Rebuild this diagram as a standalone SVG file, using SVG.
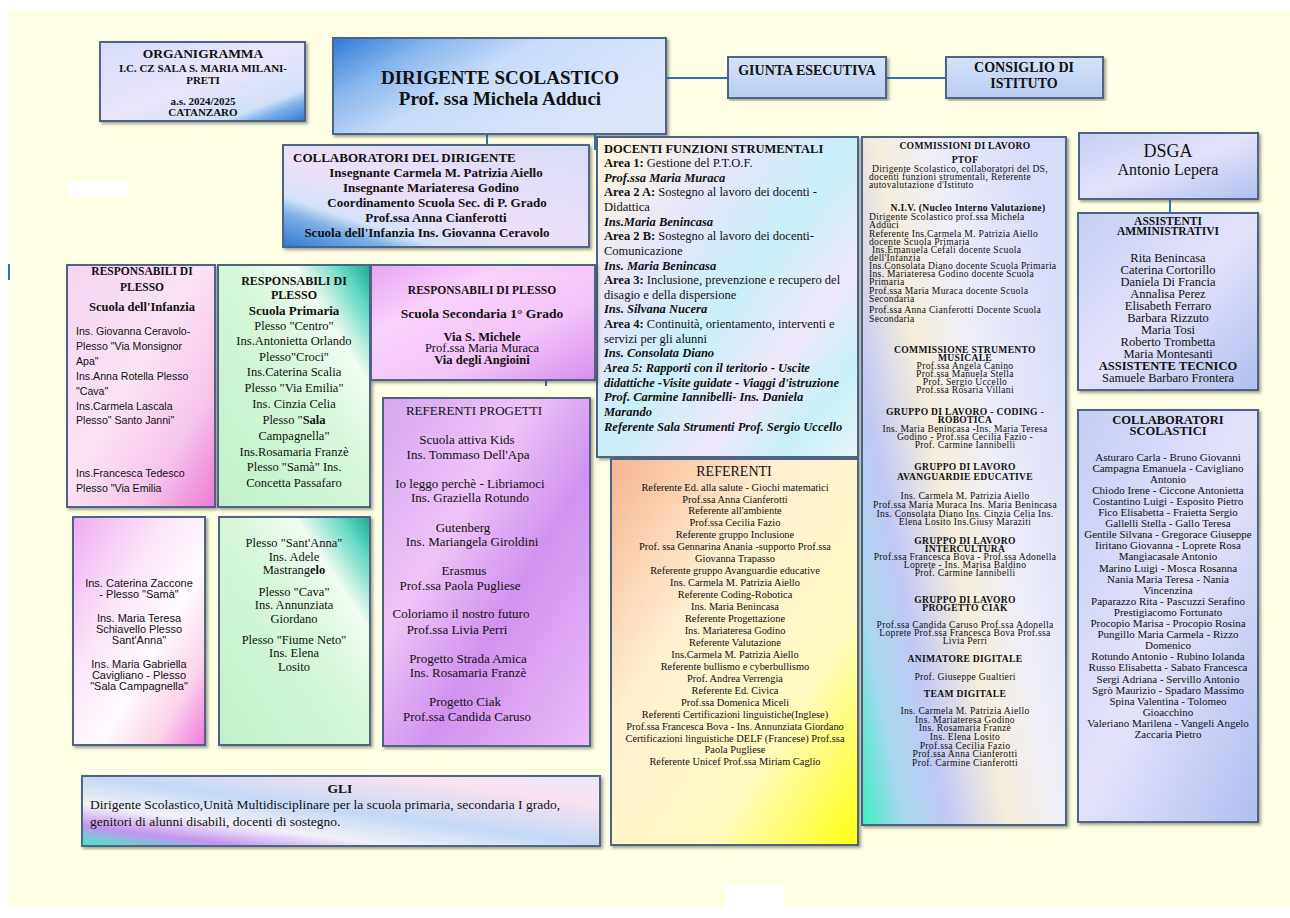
<svg xmlns="http://www.w3.org/2000/svg" width="1290" height="918" viewBox="0 0 1290 918">
<defs>
<style>
.t{font-family:"Liberation Serif","Times New Roman",serif;fill:#111}
.s{font-family:"Liberation Sans",Arial,sans-serif;fill:#111}
.b{font-weight:bold}
.i{font-style:italic}
.c{text-anchor:middle}
.box{stroke:#4f6482;stroke-width:2;filter:url(#sh)}
.con{stroke:#2e74b5;stroke-width:2;fill:none}
</style>
<filter id="sh" x="-5%" y="-5%" width="112%" height="112%">
<feDropShadow dx="2" dy="2" stdDeviation="1.5" flood-color="#444" flood-opacity="0.5"/>
</filter>
<linearGradient id="gOrg" x1="0" y1="0" x2="1" y2="1">
<stop offset="0" stop-color="#d4dcfa"/><stop offset="0.5" stop-color="#ebe6fb"/><stop offset="0.8" stop-color="#cfdff8"/><stop offset="0.87" stop-color="#80b2ea"/><stop offset="1" stop-color="#2f78d0"/>
</linearGradient>
<linearGradient id="gDir" x1="0" y1="0" x2="1" y2="0.5">
<stop offset="0" stop-color="#2e7ad4"/><stop offset="0.25" stop-color="#86b6ee"/><stop offset="0.5" stop-color="#c8dbf8"/><stop offset="1" stop-color="#dde6fb"/>
</linearGradient>
<linearGradient id="gGiu" x1="0" y1="0" x2="0" y2="1">
<stop offset="0" stop-color="#d6e2f8"/><stop offset="1" stop-color="#b9cdf2"/>
</linearGradient>
<linearGradient id="gCol" x1="1" y1="0" x2="0" y2="1">
<stop offset="0" stop-color="#d8dcf8"/><stop offset="0.55" stop-color="#eedff8"/><stop offset="0.75" stop-color="#d4e2f8"/><stop offset="0.83" stop-color="#7cb0e8"/><stop offset="1" stop-color="#2f78d0"/>
</linearGradient>
<linearGradient id="gRain" x1="0" y1="0" x2="1" y2="1">
<stop offset="0" stop-color="#fff8dc"/><stop offset="0.3" stop-color="#e6e6fb"/><stop offset="0.5" stop-color="#c8f0f8"/><stop offset="0.7" stop-color="#f0e8fa"/><stop offset="0.85" stop-color="#c8f2f8"/><stop offset="1" stop-color="#e8f4fb"/>
</linearGradient>
<linearGradient id="gCom" x1="0" y1="1" x2="1" y2="0.35">
<stop offset="0" stop-color="#3cf0c0"/><stop offset="0.15" stop-color="#a8d8f0"/><stop offset="0.3" stop-color="#c2c8f4"/><stop offset="0.5" stop-color="#f6eedc"/><stop offset="0.7" stop-color="#efeffa"/><stop offset="1" stop-color="#d8dcf8"/>
</linearGradient>
<linearGradient id="gAdm" x1="0" y1="0" x2="1" y2="1">
<stop offset="0" stop-color="#c4cef4"/><stop offset="0.5" stop-color="#e4e2fa"/><stop offset="1" stop-color="#b0bff0"/>
</linearGradient>
<linearGradient id="gPink" x1="0" y1="0" x2="1" y2="1">
<stop offset="0" stop-color="#f4d4f2"/><stop offset="0.45" stop-color="#fbe4f5"/><stop offset="0.75" stop-color="#f6c4ea"/><stop offset="1" stop-color="#ee78d6"/>
</linearGradient>
<linearGradient id="gPink2" x1="0" y1="0" x2="1" y2="1">
<stop offset="0" stop-color="#eeaaf2"/><stop offset="0.35" stop-color="#fbe6f8"/><stop offset="0.6" stop-color="#fffaff"/><stop offset="0.8" stop-color="#fbd6ea"/><stop offset="1" stop-color="#f07ae0"/>
</linearGradient>
<linearGradient id="gGreen" x1="0" y1="1" x2="1" y2="0">
<stop offset="0" stop-color="#bff0c8"/><stop offset="0.55" stop-color="#d8f8dc"/><stop offset="0.75" stop-color="#f2fcf2"/><stop offset="0.9" stop-color="#62d8c2"/><stop offset="1" stop-color="#1ea898"/>
</linearGradient>
<linearGradient id="gPur" x1="0" y1="0" x2="1" y2="1">
<stop offset="0" stop-color="#e6a4f4"/><stop offset="0.3" stop-color="#f8d2fa"/><stop offset="0.65" stop-color="#f2c4f8"/><stop offset="1" stop-color="#d88ef0"/>
</linearGradient>
<linearGradient id="gPur2" x1="0" y1="0" x2="1" y2="1">
<stop offset="0" stop-color="#d6a6f0"/><stop offset="0.35" stop-color="#eec4f8"/><stop offset="0.6" stop-color="#d092f0"/><stop offset="1" stop-color="#ecbcf8"/>
</linearGradient>
<linearGradient id="gOra" x1="0" y1="0" x2="1" y2="1">
<stop offset="0" stop-color="#f6b48e"/><stop offset="0.35" stop-color="#fff0d2"/><stop offset="0.7" stop-color="#fffbc0"/><stop offset="1" stop-color="#ffff10"/>
</linearGradient>
<linearGradient id="gGli" x1="0" y1="1" x2="1" y2="0">
<stop offset="0" stop-color="#40f0c0"/><stop offset="0.15" stop-color="#c494f0"/><stop offset="0.3" stop-color="#f2f2f8"/><stop offset="0.5" stop-color="#c4d8f4"/><stop offset="0.8" stop-color="#fae2f0"/><stop offset="1" stop-color="#e6e8fa"/>
</linearGradient>
</defs>

<rect x="0" y="0" width="1290" height="918" fill="#ffffff"/>
<rect x="8" y="10" width="1282" height="898" fill="#fefee4"/>
<rect x="68" y="182" width="60" height="16" fill="#ffffff"/>
<rect x="725" y="885" width="60" height="23" fill="#ffffff"/>

<g id="connectors">
<line class="con" x1="666" y1="78" x2="728" y2="78"/>
<line class="con" x1="886" y1="78" x2="946" y2="78"/>
<line class="con" x1="487" y1="134" x2="487" y2="145"/>
<line class="con" x1="595" y1="134" x2="595" y2="150"/>
<line class="con" x1="1170" y1="199" x2="1170" y2="213"/>
<line class="con" x1="546" y1="380" x2="546" y2="386"/>
<line class="con" x1="508" y1="397" x2="508" y2="405"/>
<line class="con" x1="9" y1="264" x2="9" y2="280"/>
</g>

<g id="organigramma">
<rect class="box" x="100" y="42" width="205" height="79" fill="url(#gOrg)"/>
<text class="t b c" x="203" y="58" font-size="13.5">ORGANIGRAMMA</text>
<text class="t b c" x="203" y="72" font-size="11">I.C. CZ SALA S. MARIA MILANI-</text>
<text class="t b c" x="203" y="84" font-size="11">PRETI</text>
<text class="t b c" x="203" y="105" font-size="11">a.s. 2024/2025</text>
<text class="t b c" x="203" y="116" font-size="11">CATANZARO</text>
</g>

<g id="dirigente">
<rect class="box" x="333" y="38" width="333" height="96" fill="url(#gDir)"/>
<text class="t b c" x="500" y="84" font-size="19">DIRIGENTE SCOLASTICO</text>
<text class="t b c" x="500" y="105" font-size="19">Prof. ssa Michela Adduci</text>
</g>

<g id="giunta">
<rect class="box" x="728" y="57" width="158" height="41" fill="url(#gGiu)"/>
<text class="t b c" x="807" y="75" font-size="14">GIUNTA ESECUTIVA</text>
</g>

<g id="consiglio">
<rect class="box" x="946" y="57" width="157" height="41" fill="url(#gGiu)"/>
<text class="t b c" x="1024" y="72" font-size="14">CONSIGLIO DI</text>
<text class="t b c" x="1024" y="88" font-size="14">ISTITUTO</text>
</g>

<g id="collaboratori-dirigente">
<rect class="box" x="283" y="145" width="306" height="102" fill="url(#gCol)"/>
<text class="t b" x="293" y="162" font-size="13">COLLABORATORI DEL DIRIGENTE</text>
<text class="t b c" x="436" y="177" font-size="13">Insegnante Carmela M. Patrizia Aiello</text>
<text class="t b c" x="431" y="192" font-size="13">Insegnante Mariateresa Godino</text>
<text class="t b c" x="437" y="207" font-size="13">Coordinamento Scuola Sec. di P. Grado</text>
<text class="t b c" x="436" y="222" font-size="13">Prof.ssa Anna Cianferotti</text>
<text class="t b c" x="427" y="237" font-size="13">Scuola dell'Infanzia Ins. Giovanna Ceravolo</text>
</g>

<g id="funzioni-strumentali">
<rect class="box" x="597" y="137" width="261" height="320" fill="url(#gRain)"/>
<g class="t" font-size="12.5">
<text class="b" x="604" y="152.5">DOCENTI FUNZIONI STRUMENTALI</text>
<text x="604" y="167.1"><tspan class="b">Area 1:</tspan> Gestione del P.T.O.F.</text>
<text class="b i" x="604" y="181.8">Prof.ssa Maria Muraca</text>
<text x="604" y="196.4"><tspan class="b">Area 2 A:</tspan> Sostegno al lavoro dei docenti -</text>
<text x="604" y="211">Didattica</text>
<text class="b i" x="604" y="225.7">Ins.Maria Benincasa</text>
<text x="604" y="240.3"><tspan class="b">Area 2 B:</tspan> Sostegno al lavoro dei docenti-</text>
<text x="604" y="254.9">Comunicazione</text>
<text class="b i" x="604" y="269.5">Ins. Maria Benincasa</text>
<text x="604" y="284.2"><tspan class="b">Area 3:</tspan> Inclusione, prevenzione e recupero del</text>
<text x="604" y="298.8">disagio e della dispersione</text>
<text class="b i" x="604" y="313.4">Ins. Silvana Nucera</text>
<text x="604" y="328"><tspan class="b">Area 4:</tspan> Continuità, orientamento, interventi e</text>
<text x="604" y="342.7">servizi per gli alunni</text>
<text class="b i" x="604" y="357.3">Ins. Consolata Diano</text>
<text class="b i" x="604" y="371.9">Area 5: Rapporti con il teritorio - Uscite</text>
<text class="b i" x="604" y="386.6">didattiche -Visite guidate -  Viaggi d'istruzione</text>
<text class="b i" x="604" y="401.2">Prof. Carmine Iannibelli- Ins. Daniela</text>
<text class="b i" x="604" y="415.8">Marando</text>
<text class="b i" x="604" y="430.5">Referente Sala Strumenti Prof. Sergio Uccello</text>
</g>
</g>

<g id="commissioni">
<rect class="box" x="862" y="137" width="204" height="688" fill="url(#gCom)"/>
<g class="t" font-size="9.6" letter-spacing="0.3">
<text class="b c" x="965" y="149">COMMISSIONI DI LAVORO</text>
<text class="b c" x="965" y="163">PTOF</text>
<text x="872" y="171.5">Dirigente Scolastico, collaboratori del DS,</text>
<text x="869" y="179.5">docenti funzioni strumentali, Referente</text>
<text x="869" y="187.5">autovalutazione d'Istituto</text>
<text class="b c" x="968" y="211">N.I.V. (Nucleo Interno Valutazione)</text>
<text x="869" y="219.5">Dirigente Scolastico prof.ssa Michela</text>
<text x="869" y="227.5">Adduci</text>
<text x="869" y="236.5">Referente Ins.Carmela M. Patrizia Aiello</text>
<text x="869" y="244.5">docente Scuola Primaria</text>
<text x="872" y="252.5">Ins.Emanuela Cefali docente Scuola</text>
<text x="869" y="260.5">dell'Infanzia</text>
<text x="869" y="268.5">Ins.Consolata Diano docente Scuola Primaria</text>
<text x="869" y="276.5">Ins. Mariateresa Godino docente Scuola</text>
<text x="869" y="284.5">Primaria</text>
<text x="869" y="293.5">Prof.ssa Maria Muraca docente Scuola</text>
<text x="869" y="301.5">Secondaria</text>
<text x="869" y="312.5">Prof.ssa Anna Cianferotti Docente Scuola</text>
<text x="869" y="321.5">Secondaria</text>
<text class="b c" x="965" y="352.5">COMMISSIONE STRUMENTO</text>
<text class="b c" x="965" y="360.5">MUSICALE</text>
<text class="c" x="965" y="368.5">Prof.ssa Angela Canino</text>
<text class="c" x="965" y="376.5">Prof.ssa Manuela Stella</text>
<text class="c" x="965" y="384.5">Prof. Sergio Uccello</text>
<text class="c" x="965" y="392.5">Prof.ssa Rosaria Villani</text>
<text class="b c" x="965" y="414.5">GRUPPO DI LAVORO - CODING -</text>
<text class="b c" x="965" y="422.5">ROBOTICA</text>
<text class="c" x="965" y="431.5">Ins. Maria Benincasa -Ins. Maria Teresa</text>
<text class="c" x="965" y="439.5">Godino - Prof.ssa Cecilia Fazio -</text>
<text class="c" x="965" y="447.5">Prof. Carmine Iannibelli</text>
<text class="b c" x="965" y="469.5">GRUPPO DI LAVORO</text>
<text class="b c" x="965" y="479.5">AVANGUARDIE EDUCATIVE</text>
<text class="c" x="965" y="498.5">Ins. Carmela M. Patrizia Aiello</text>
<text class="c" x="965" y="507.5">Prof.ssa Maria Muraca Ins. Maria Benincasa</text>
<text class="c" x="965" y="516.5">Ins. Consolata Diano Ins. Cinzia Celia Ins.</text>
<text class="c" x="965" y="524.5">Elena Losito Ins.Giusy Maraziti</text>
<text class="b c" x="965" y="543.5">GRUPPO DI LAVORO</text>
<text class="b c" x="965" y="551.5">INTERCULTURA</text>
<text class="c" x="965" y="559.5">Prof.ssa Francesca Bova - Prof.ssa Adonella</text>
<text class="c" x="965" y="567.5">Loprete - Ins. Marisa Baldino</text>
<text class="c" x="965" y="575.5">Prof. Carmine Iannibelli</text>
<text class="b c" x="965" y="602.5">GRUPPO DI LAVORO</text>
<text class="b c" x="965" y="610.5">PROGETTO CIAK</text>
<text class="c" x="965" y="627.5">Prof.ssa Candida Caruso Prof.ssa Adonella</text>
<text class="c" x="965" y="635.5">Loprete Prof.ssa Francesca Bova Prof.ssa</text>
<text class="c" x="965" y="643.5">Livia Perri</text>
<text class="b c" x="965" y="661.5">ANIMATORE DIGITALE</text>
<text class="c" x="965" y="679.5">Prof. Giuseppe Gualtieri</text>
<text class="b c" x="965" y="696.5">TEAM DIGITALE</text>
<text class="c" x="965" y="713.5">Ins. Carmela M. Patrizia Aiello</text>
<text class="c" x="965" y="722.5">Ins. Mariateresa Godino</text>
<text class="c" x="965" y="730.5">Ins. Rosamaria Franzè</text>
<text class="c" x="965" y="739.5">Ins. Elena Losito</text>
<text class="c" x="965" y="748.5">Prof.ssa Cecilia Fazio</text>
<text class="c" x="965" y="756.5">Prof.ssa Anna Cianferotti</text>
<text class="c" x="965" y="765.5">Prof. Carmine Cianferotti</text>
</g>
</g>

<g id="dsga">
<rect class="box" x="1079" y="133" width="179" height="66" fill="url(#gAdm)"/>
<text class="t c" x="1168" y="157" font-size="18">DSGA</text>
<text class="t c" x="1168" y="175" font-size="16">Antonio Lepera</text>
</g>

<g id="assistenti">
<rect class="box" x="1078" y="213" width="180" height="177" fill="url(#gAdm)"/>
<g class="t c" font-size="12.5">
<text class="b" x="1168" y="225" font-size="11.5">ASSISTENTI</text>
<text class="b" x="1168" y="235" font-size="11.5">AMMINISTRATIVI</text>
<text x="1168" y="262">Rita Benincasa</text>
<text x="1168" y="274">Caterina Cortorillo</text>
<text x="1168" y="286">Daniela Di Francia</text>
<text x="1168" y="298">Annalisa Perez</text>
<text x="1168" y="310">Elisabeth Ferraro</text>
<text x="1168" y="322">Barbara Rizzuto</text>
<text x="1168" y="334">Maria Tosi</text>
<text x="1168" y="346">Roberto Trombetta</text>
<text x="1168" y="358">Maria Montesanti</text>
<text class="b" x="1168" y="370">ASSISTENTE TECNICO</text>
<text x="1168" y="382">Samuele Barbaro Frontera</text>
</g>
</g>

<g id="collaboratori-scolastici">
<rect class="box" x="1078" y="410" width="180" height="412" fill="url(#gAdm)"/>
<g class="t c" font-size="11">
<text class="b" x="1168" y="424" font-size="12.5">COLLABORATORI</text>
<text class="b" x="1168" y="435" font-size="12.5">SCOLASTICI</text>
<text x="1168" y="460.5">Asturaro Carla - Bruno Giovanni</text>
<text x="1168" y="471.6">Campagna Emanuela - Cavigliano</text>
<text x="1168" y="482.7">Antonio</text>
<text x="1168" y="493.8">Chiodo Irene - Ciccone Antonietta</text>
<text x="1168" y="504.9">Costantino Luigi - Esposito Pietro</text>
<text x="1168" y="516">Fico Elisabetta - Fraietta Sergio</text>
<text x="1168" y="527.1">Gallelli Stella - Gallo Teresa</text>
<text x="1168" y="538.2">Gentile Silvana - Gregorace Giuseppe</text>
<text x="1168" y="549.3">Iiritano Giovanna - Loprete Rosa</text>
<text x="1168" y="560.4">Mangiacasale Antonio</text>
<text x="1168" y="571.5">Marino Luigi - Mosca Rosanna</text>
<text x="1168" y="582.6">Nania Maria Teresa  - Nania</text>
<text x="1168" y="593.7">Vincenzina</text>
<text x="1168" y="604.8">Paparazzo Rita - Pascuzzi Serafino</text>
<text x="1168" y="615.9">Prestigiacomo Fortunato</text>
<text x="1168" y="627">Procopio Marisa - Procopio Rosina</text>
<text x="1168" y="638.1">Pungillo Maria Carmela - Rizzo</text>
<text x="1168" y="649.2">Domenico</text>
<text x="1168" y="660.3">Rotundo Antonio - Rubino Iolanda</text>
<text x="1168" y="671.4">Russo Elisabetta - Sabato Francesca</text>
<text x="1168" y="682.5">Sergi Adriana - Servillo Antonio</text>
<text x="1168" y="693.6">Sgrò Maurizio - Spadaro Massimo</text>
<text x="1168" y="704.7">Spina Valentina - Tolomeo</text>
<text x="1168" y="715.8">Gioacchino</text>
<text x="1168" y="726.9">Valeriano Marilena - Vangeli Angelo</text>
<text x="1168" y="738">Zaccaria Pietro</text>
</g>
</g>

<g id="plesso-infanzia">
<rect class="box" x="67" y="265" width="148" height="242" fill="url(#gPink)"/>
<text class="t b c" x="142" y="275" font-size="11.5">RESPONSABILI DI</text>
<text class="t b c" x="142" y="291" font-size="11.5">PLESSO</text>
<text class="t b c" x="142" y="311" font-size="12.5">Scuola dell'Infanzia</text>
<g class="s" font-size="10.6">
<text x="76" y="335">Ins. Giovanna Ceravolo-</text>
<text x="76" y="350">Plesso "Via Monsignor</text>
<text x="76" y="365">Apa"</text>
<text x="76" y="380">Ins.Anna Rotella Plesso</text>
<text x="76" y="395">"Cava"</text>
<text x="76" y="410">Ins.Carmela Lascala</text>
<text x="76" y="424"> Plesso" Santo Janni"</text>
<text x="76" y="477">Ins.Francesca Tedesco</text>
<text x="76" y="492">Plesso "Via Emilia</text>
</g>
</g>

<g id="plesso-primaria">
<rect class="box" x="218" y="265" width="152" height="242" fill="url(#gGreen)"/>
<g class="t c" font-size="12.5">
<text class="b" x="294" y="285" font-size="12">RESPONSABILI DI</text>
<text class="b" x="294" y="299" font-size="12">PLESSO</text>
<text class="b" x="294" y="315" font-size="13">Scuola Primaria</text>
<text x="294" y="330">Plesso "Centro"</text>
<text x="294" y="345">Ins.Antonietta Orlando</text>
<text x="294" y="361">Plesso"Croci"</text>
<text x="294" y="376">Ins.Caterina Scalia</text>
<text x="294" y="392">Plesso "Via Emilia"</text>
<text x="294" y="408">Ins. Cinzia Celia</text>
<text x="294" y="424">Plesso "<tspan class="b">Sala</tspan></text>
<text x="294" y="440">Campagnella"</text>
<text x="294" y="456">Ins.Rosamaria Franzè</text>
<text x="294" y="471">Plesso "Samà" Ins.</text>
<text x="294" y="487">Concetta Passafaro</text>
</g>
</g>

<g id="plesso-secondaria">
<rect class="box" x="371" y="265" width="224" height="115" fill="url(#gPur)"/>
<text class="t b c" x="482" y="294" font-size="11.5">RESPONSABILI DI PLESSO</text>
<text class="t b c" x="482" y="318" font-size="13.5">Scuola Secondaria 1° Grado</text>
<text class="t b c" x="482" y="341" font-size="12.5">Via S. Michele</text>
<text class="t c" x="482" y="352" font-size="12.5">Prof.ssa Maria Muraca</text>
<text class="t b c" x="482" y="364" font-size="12.5">Via degli Angioini</text>
</g>

<g id="referenti-progetti">
<rect class="box" x="383" y="398" width="207" height="348" fill="url(#gPur2)"/>
<g class="t c" font-size="13">
<text x="474" y="415">REFERENTI PROGETTI</text>
<text x="467" y="444">Scuola attiva Kids</text>
<text x="468" y="459">Ins. Tommaso Dell'Apa</text>
<text x="470" y="488">Io leggo perchè - Libriamoci</text>
<text x="470" y="502">Ins. Graziella Rotundo</text>
<text x="463" y="532">Gutenberg</text>
<text x="472" y="546">Ins. Mariangela Giroldini</text>
<text x="464" y="575">Erasmus</text>
<text x="460" y="590">Prof.ssa Paola Pugliese</text>
<text x="461" y="618">Coloriamo il nostro futuro</text>
<text x="457" y="634">Prof.ssa Livia Perri</text>
<text x="468" y="663">Progetto Strada Amica</text>
<text x="468" y="677">Ins. Rosamaria Franzè</text>
<text x="465" y="706">Progetto Ciak</text>
<text x="467" y="721">Prof.ssa Candida Caruso</text>
</g>
</g>

<g id="infanzia-altri">
<rect class="box" x="73" y="517" width="132" height="228" fill="url(#gPink2)"/>
<g class="s c" font-size="11">
<text x="139" y="587">Ins. Caterina Zaccone</text>
<text x="139" y="598">- Plesso "Samà"</text>
<text x="139" y="622">Ins. Maria Teresa</text>
<text x="139" y="633">Schiavello Plesso</text>
<text x="139" y="644">Sant'Anna"</text>
<text x="139" y="668">Ins. Maria Gabriella</text>
<text x="139" y="679">Cavigliano - Plesso</text>
<text x="139" y="690">"Sala Campagnella"</text>
</g>
</g>

<g id="primaria-altri">
<rect class="box" x="219" y="517" width="151" height="228" fill="url(#gGreen)"/>
<g class="t c" font-size="12.5">
<text x="294" y="547">Plesso "Sant'Anna"</text>
<text x="294" y="561">Ins. Adele</text>
<text x="294" y="574">Mastrang<tspan class="b">elo</tspan></text>
<text x="294" y="596">Plesso "Cava"</text>
<text x="294" y="609">Ins. Annunziata</text>
<text x="294" y="623">Giordano</text>
<text x="294" y="644">Plesso "Fiume Neto"</text>
<text x="294" y="657">Ins. Elena</text>
<text x="294" y="671">Losito</text>
</g>
</g>

<g id="referenti">
<rect class="box" x="611" y="459" width="247" height="386" fill="url(#gOra)"/>
<text class="t c" x="734" y="476" font-size="14">REFERENTI</text>
<g class="t c" font-size="10.4">
<text x="735" y="490.5">Referente Ed. alla salute - Giochi matematici</text>
<text x="735" y="502.5">Prof.ssa Anna Cianferotti</text>
<text x="735" y="514.4">Referente all'ambiente</text>
<text x="735" y="526.4">Prof.ssa Cecilia Fazio</text>
<text x="735" y="538.3">Referente gruppo Inclusione</text>
<text x="735" y="550.3">Prof. ssa Gennarina Anania -supporto Prof.ssa</text>
<text x="735" y="562.2">Giovanna Trapasso</text>
<text x="735" y="574.2">Referente  gruppo Avanguardie educative</text>
<text x="735" y="586.1">Ins. Carmela M. Patrizia Aiello</text>
<text x="735" y="598.1">Referente Coding-Robotica</text>
<text x="735" y="610">Ins. Maria Benincasa</text>
<text x="735" y="622">Referente Progettazione</text>
<text x="735" y="633.9">Ins. Mariateresa Godino</text>
<text x="735" y="645.9">Referente Valutazione</text>
<text x="735" y="657.8">Ins.Carmela M. Patrizia Aiello</text>
<text x="735" y="669.8">Referente bullismo e cyberbullismo</text>
<text x="735" y="681.7">Prof. Andrea Verrengia</text>
<text x="735" y="693.7">Referente Ed. Civica</text>
<text x="735" y="705.6">Prof.ssa Domenica Miceli</text>
<text x="735" y="717.6">Referenti Certificazioni linguistiche(Inglese)</text>
<text x="735" y="729.5">Prof.ssa Francesca Bova - Ins. Annunziata Giordano</text>
<text x="735" y="741.5">Certificazioni linguistiche DELF (Francese) Prof.ssa</text>
<text x="735" y="753.4">Paola Pugliese</text>
<text x="735" y="765.4">Referente Unicef Prof.ssa Miriam Caglio</text>
</g>
</g>

<g id="gli">
<rect class="box" x="82" y="776" width="518" height="70" fill="url(#gGli)"/>
<text class="t b c" x="340" y="793" font-size="13.5">GLI</text>
<text class="t" x="90" y="809" font-size="13.5">Dirigente  Scolastico,Unità Multidisciplinare per la scuola primaria, secondaria I grado,</text>
<text class="t" x="90" y="826" font-size="13.5">genitori di alunni disabili, docenti di sostegno.</text>
</g>
</svg>
